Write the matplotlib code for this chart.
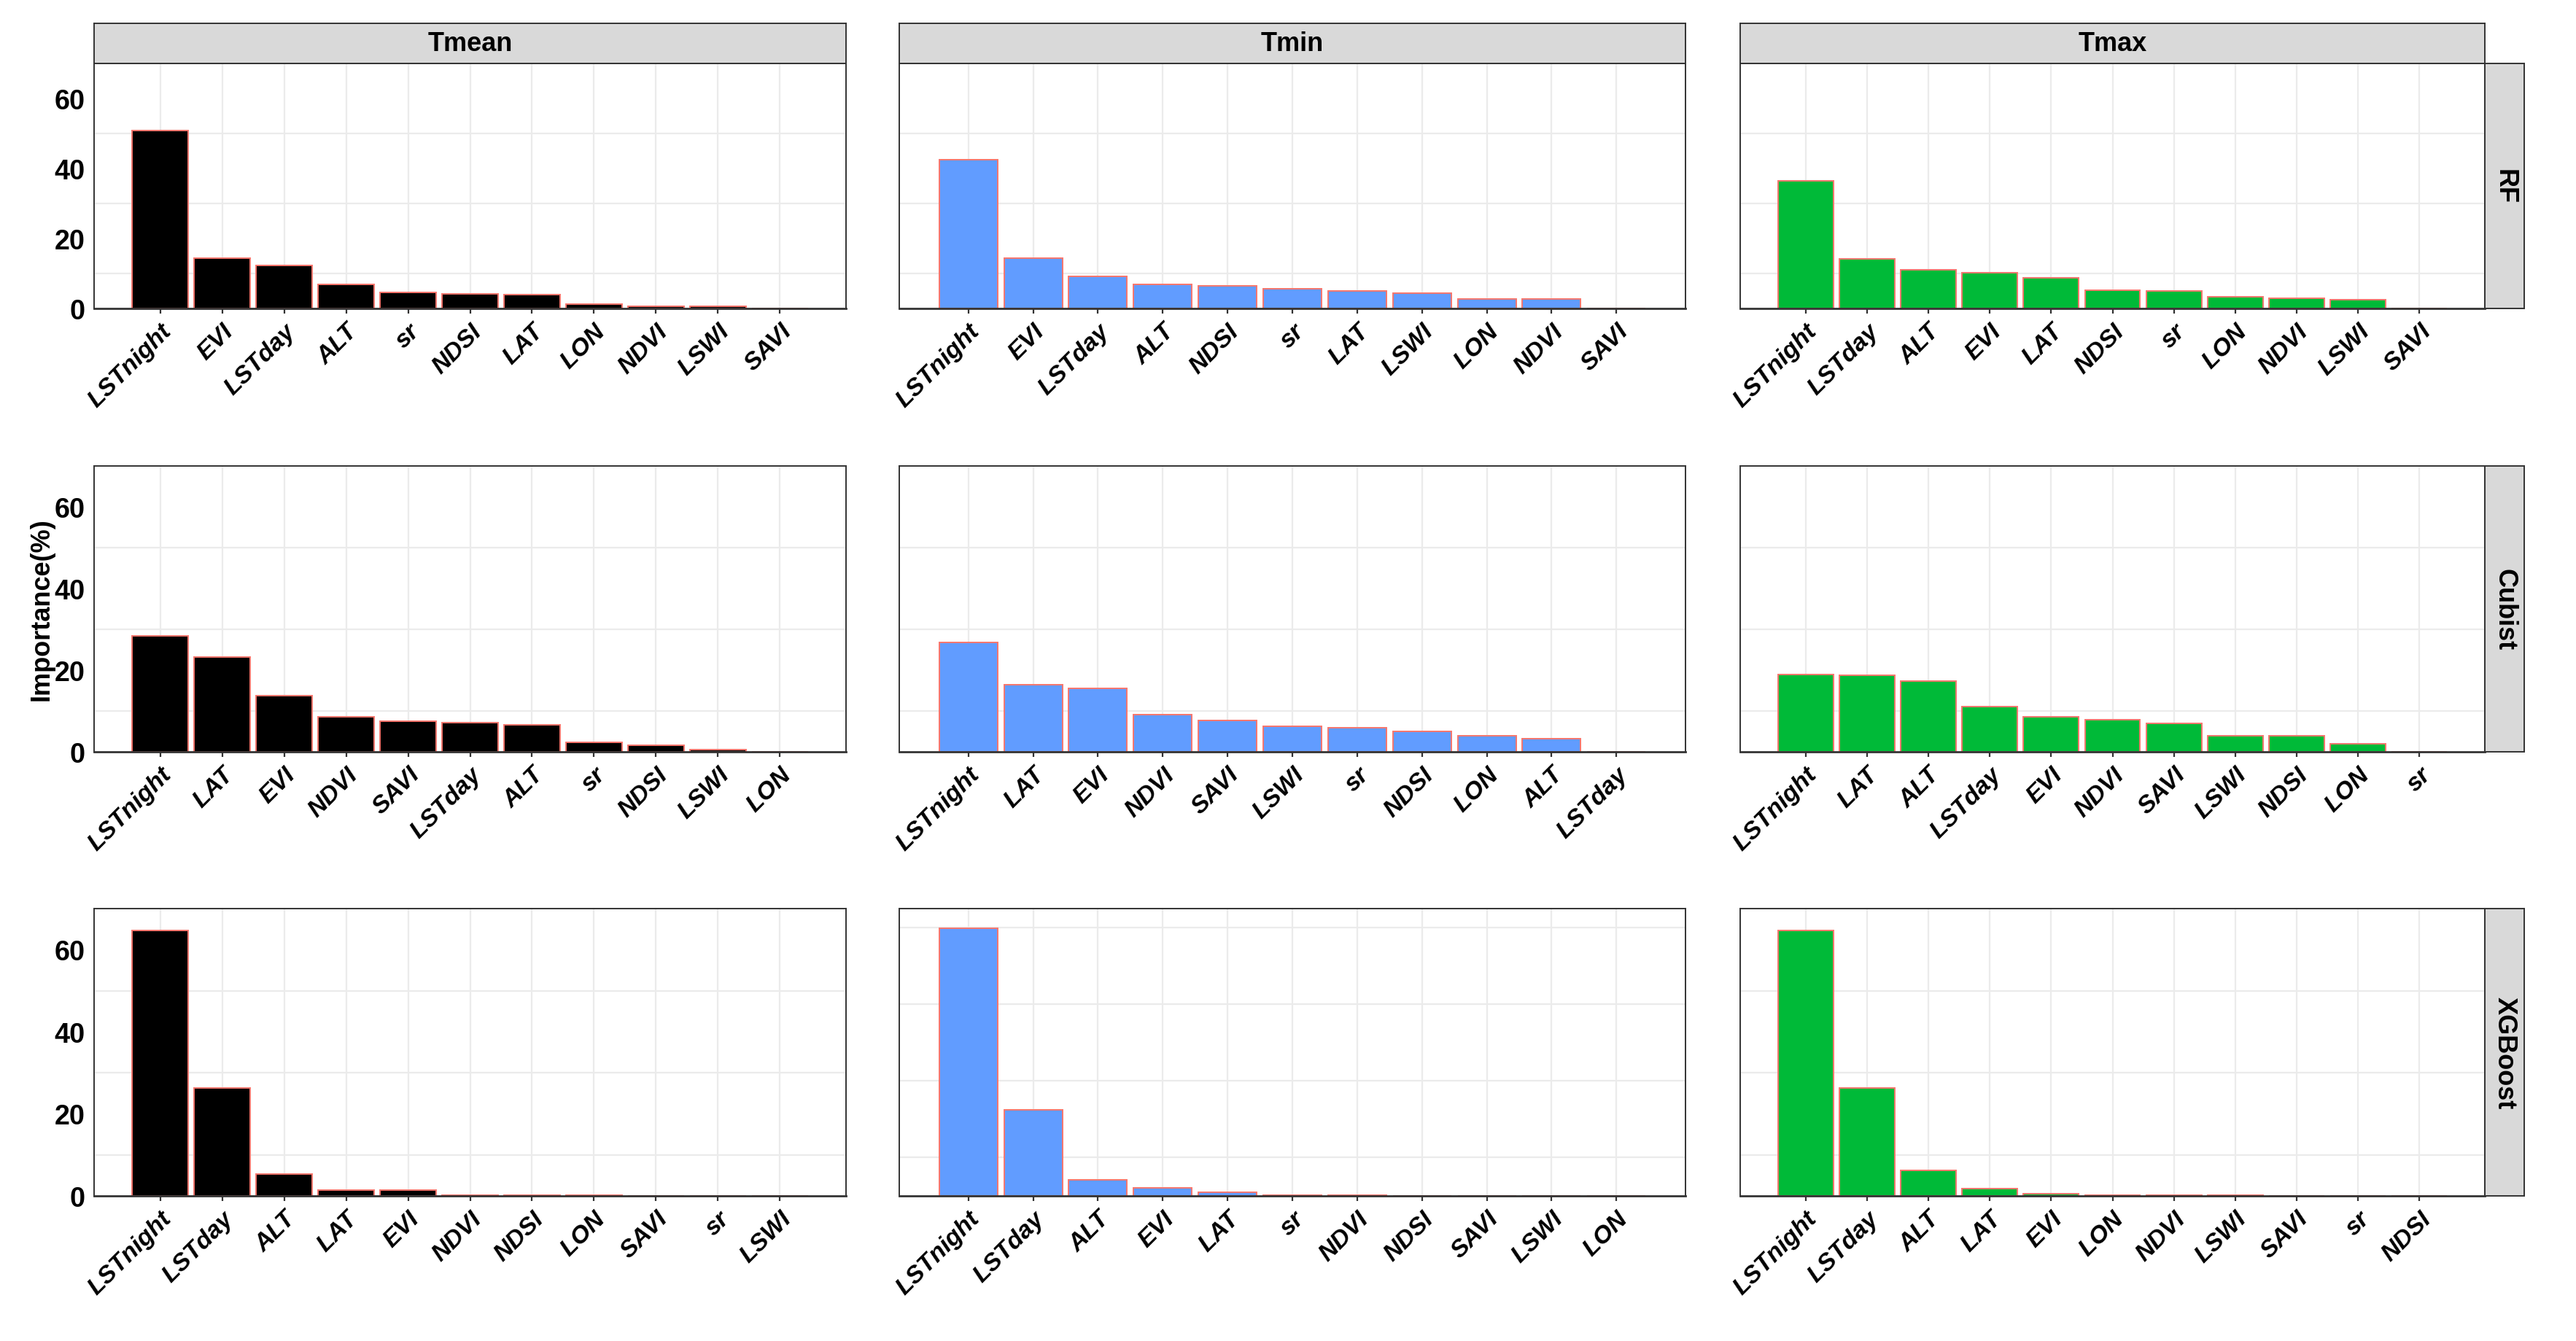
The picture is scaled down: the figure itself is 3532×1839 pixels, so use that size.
import numpy as np
import matplotlib.pyplot as plt

plt.rcParams['font.family'] = ['Liberation Sans', 'DejaVu Sans']
plt.rcParams['font.weight'] = 'bold'

targets = ['Tmean', 'Tmin', 'Tmax']
models = ['RF', 'Cubist', 'XGBoost']
fill_colors = ['black', '#619CFF', '#00BA38']
edge_color = '#F8766D'

# variable order and importance (%) per panel
rf_tmean_vars = ['LSTnight', 'EVI', 'LSTday', 'ALT', 'sr', 'NDSI', 'LAT', 'LON', 'NDVI', 'LSWI', 'SAVI']
rf_tmean_imp = [50.9, 14.4, 12.2, 6.9, 4.6, 4.2, 3.9, 1.2, 0.7, 0.7, 0.0]
rf_tmin_vars = ['LSTnight', 'EVI', 'LSTday', 'ALT', 'NDSI', 'sr', 'LAT', 'LSWI', 'LON', 'NDVI', 'SAVI']
rf_tmin_imp = [42.5, 14.4, 9.1, 6.9, 6.5, 5.7, 4.9, 4.3, 2.7, 2.7, 0.0]
rf_tmax_vars = ['LSTnight', 'LSTday', 'ALT', 'EVI', 'LAT', 'NDSI', 'sr', 'LON', 'NDVI', 'LSWI', 'SAVI']
rf_tmax_imp = [36.4, 14.1, 11.1, 10.3, 8.8, 5.3, 4.9, 3.3, 2.9, 2.6, 0.0]

cubist_tmean_vars = ['LSTnight', 'LAT', 'EVI', 'NDVI', 'SAVI', 'LSTday', 'ALT', 'sr', 'NDSI', 'LSWI', 'LON']
cubist_tmean_imp = [28.4, 23.3, 13.7, 8.5, 7.5, 7.2, 6.6, 2.3, 1.6, 0.5, 0.0]
cubist_tmin_vars = ['LSTnight', 'LAT', 'EVI', 'NDVI', 'SAVI', 'LSWI', 'sr', 'NDSI', 'LON', 'ALT', 'LSTday']
cubist_tmin_imp = [26.8, 16.5, 15.5, 9.1, 7.6, 6.3, 5.9, 5.0, 4.0, 3.3, 0.0]
cubist_tmax_vars = ['LSTnight', 'LAT', 'ALT', 'LSTday', 'EVI', 'NDVI', 'SAVI', 'LSWI', 'NDSI', 'LON', 'sr']
cubist_tmax_imp = [19.0, 18.7, 17.4, 11.1, 8.5, 7.9, 6.9, 4.0, 4.0, 2.0, 0.0]

xgb_tmean_vars = ['LSTnight', 'LSTday', 'ALT', 'LAT', 'EVI', 'NDVI', 'NDSI', 'LON', 'SAVI', 'sr', 'LSWI']
xgb_tmean_imp = [64.6, 26.3, 5.3, 1.4, 1.4, 0.25, 0.25, 0.25, 0.0, 0.0, 0.0]
xgb_tmin_vars = ['LSTnight', 'LSTday', 'ALT', 'EVI', 'LAT', 'sr', 'NDVI', 'NDSI', 'SAVI', 'LSWI', 'LON']
xgb_tmin_imp = [69.8, 22.5, 4.1, 2.0, 1.0, 0.25, 0.25, 0.0, 0.0, 0.0, 0.0]
xgb_tmax_vars = ['LSTnight', 'LSTday', 'ALT', 'LAT', 'EVI', 'LON', 'NDVI', 'LSWI', 'SAVI', 'sr', 'NDSI']
xgb_tmax_imp = [64.6, 26.3, 6.3, 1.8, 0.5, 0.2, 0.2, 0.2, 0.0, 0.0, 0.0]

panels = [
    [(rf_tmean_vars, rf_tmean_imp), (rf_tmin_vars, rf_tmin_imp), (rf_tmax_vars, rf_tmax_imp)],
    [(cubist_tmean_vars, cubist_tmean_imp), (cubist_tmin_vars, cubist_tmin_imp), (cubist_tmax_vars, cubist_tmax_imp)],
    [(xgb_tmean_vars, xgb_tmean_imp), (xgb_tmin_vars, xgb_tmin_imp), (xgb_tmax_vars, xgb_tmax_imp)],
]
y_max = [[70, 70, 70], [70, 70, 70], [70, 75, 70]]

# layout in pixels of the 3532x1840 image
W, H = 3532, 1840
col_x = [(129, 1160), (1233, 2311), (2386, 3407)]
row_y = [(88, 424), (640, 1032), (1247, 1641)]
strip_top = (33, 88)
strip_right = (3407, 3461)
border = '#333333'
grid = '#EBEBEB'


def box(x0, x1, y0, y1):
    return [x0 / W, 1 - y1 / H, (x1 - x0) / W, (y1 - y0) / H]


def strip(fig, rect, label, rotation=0):
    s = fig.add_axes(rect)
    s.set_facecolor('#D9D9D9')
    s.set_xticks([])
    s.set_yticks([])
    for sp in s.spines.values():
        sp.set_color(border)
        sp.set_linewidth(0.7)
    s.text(0.5, 0.5, label, transform=s.transAxes, ha='center', va='center',
           rotation=rotation, fontsize=13, fontweight='bold')


fig = plt.figure(figsize=(W / 200, H / 200), dpi=200)

for r, model in enumerate(models):
    for c, target in enumerate(targets):
        names, vals = panels[r][c]
        x = np.arange(len(names))
        ax = fig.add_axes(box(col_x[c][0], col_x[c][1], row_y[r][0], row_y[r][1]))
        ax.set_axisbelow(True)
        ax.bar(x, vals, width=0.9, color=fill_colors[c], edgecolor=edge_color,
               linewidth=0.7, zorder=2)
        ax.set_xlim(-1.065, len(names) - 1 + 1.065)
        ax.set_ylim(0, y_max[r][c])
        ax.set_xticks(x)
        ax.set_xticklabels(names, rotation=45, ha='right', va='top',
                           rotation_mode='anchor', fontsize=12.2,
                           fontweight='bold', fontstyle='italic')
        ax.set_yticks([0, 20, 40, 60])
        ax.set_yticks([10, 30, 50, 70], minor=True)
        ax.grid(axis='x', which='major', color=grid, linewidth=0.8)
        ax.grid(axis='y', which='minor', color=grid, linewidth=0.8)
        ax.grid(axis='y', which='major', visible=False)
        ax.tick_params(axis='x', length=2.5, width=0.8, color=border, pad=3)
        ax.tick_params(axis='y', which='both', length=0, pad=4.5, labelsize=13.6)
        ax.tick_params(axis='x', which='minor', length=0)
        if c > 0:
            ax.tick_params(axis='y', labelleft=False)
        for sp in ax.spines.values():
            sp.set_color(border)
            sp.set_linewidth(0.7)
        ax.spines['bottom'].set_linewidth(1.0)

        if r == 0:
            strip(fig, box(col_x[c][0], col_x[c][1], strip_top[0], strip_top[1]), target)
        if c == 2:
            strip(fig, box(strip_right[0], strip_right[1], row_y[r][0], row_y[r][1]),
                  model, rotation=-90)

fig.text(57 / W, 1 - 836 / H, 'Importance(%)', rotation=90, ha='center', va='center',
         fontsize=13, fontweight='bold')

fig.savefig('out.png', dpi=200, facecolor='white')
